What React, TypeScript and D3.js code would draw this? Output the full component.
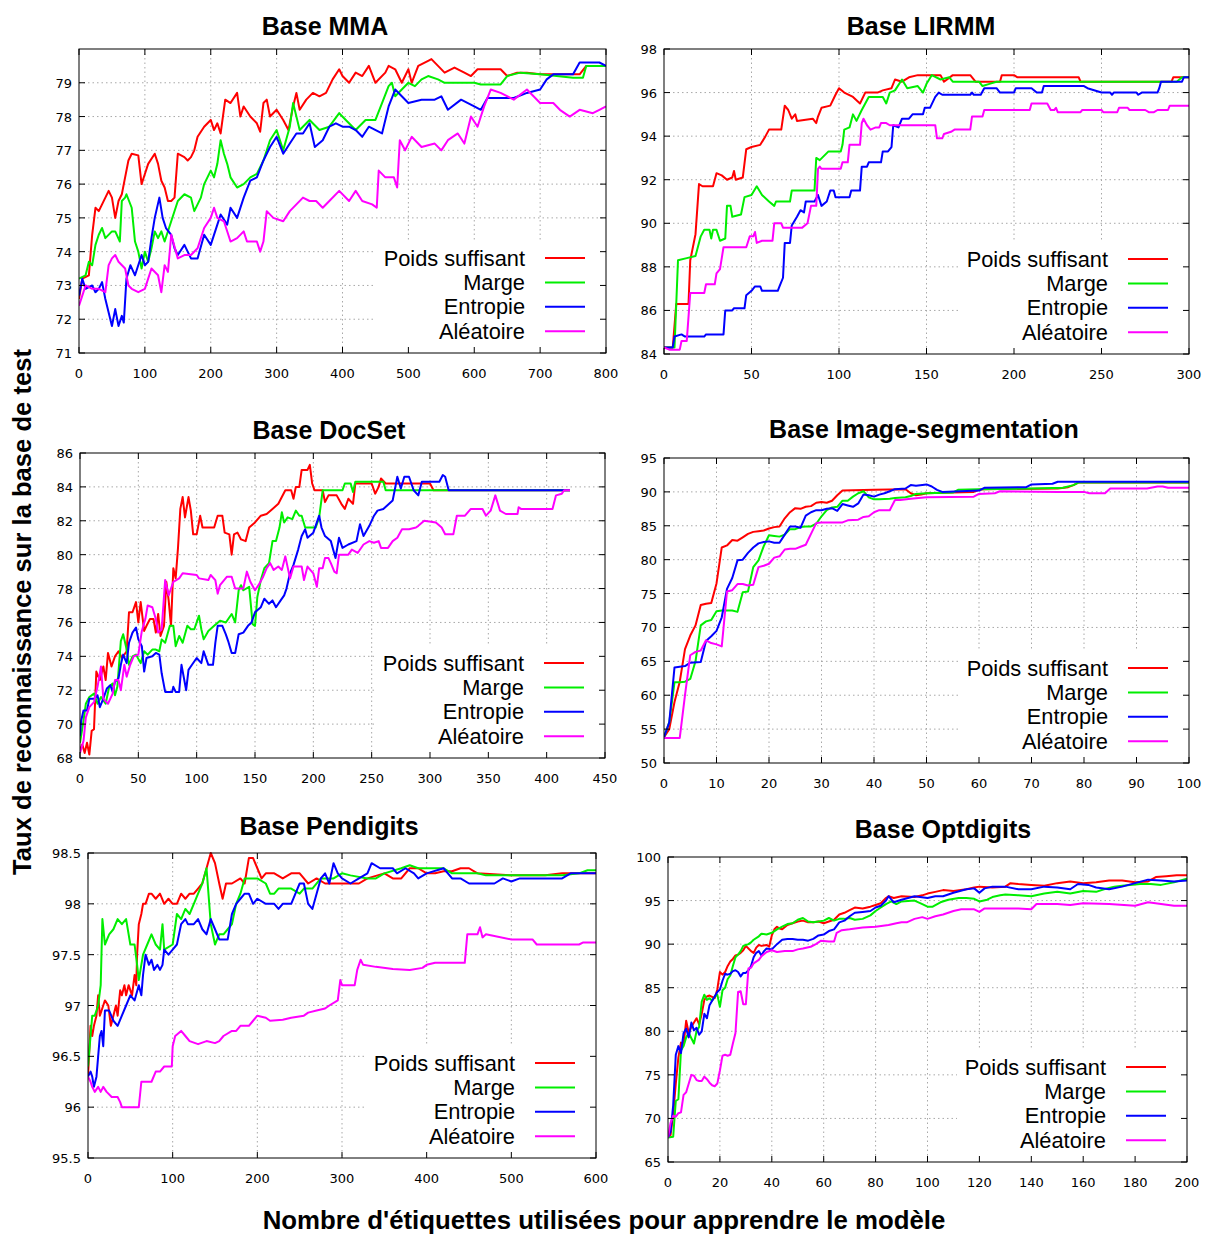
import React from 'react';
import * as d3 from 'd3';

type P = [number, number][];

const seriesNames = ['Poids suffisant', 'Marge', 'Entropie', 'Aléatoire'];
const seriesColors = ['#ff0000', '#00ee00', '#0000ff', '#ff00ff'];

// ---------- Base MMA ----------
const mmaPoids: P = [[0,72.6],[5,73.2],[15,73.3],[20,74.5],[25,75.3],[30,75.2],[35,75.4],[40,75.6],[45,75.8],[50,75.6],[55,75.0],[60,75.5],[65,75.7],[70,76.2],[75,76.7],[80,76.9],[90,76.85],[95,76.0],[100,76.3],[105,76.6],[115,76.9],[120,76.6],[125,76.1],[130,75.9],[135,75.5],[140,75.5],[145,75.6],[150,76.9],[160,76.8],[165,76.7],[170,76.8],[175,77.0],[180,77.4],[190,77.7],[200,77.9],[205,77.6],[210,77.8],[215,77.5],[222,78.5],[230,78.4],[240,78.7],[245,78.0],[250,78.3],[260,78.0],[270,77.8],[275,77.55],[280,78.4],[285,78.5],[290,78.0],[300,78.2],[310,77.9],[318,77.6],[325,78.3],[330,78.7],[335,78.2],[345,78.5],[355,78.7],[365,78.6],[375,78.7],[385,79.1],[395,79.4],[400,79.2],[410,79.0],[420,79.3],[430,79.2],[440,79.5],[450,79.0],[465,79.3],[470,79.5],[480,79.4],[490,79.0],[500,79.4],[505,79.0],[515,79.5],[530,79.65],[535,79.7],[545,79.5],[555,79.3],[570,79.45],[585,79.3],[595,79.2],[605,79.4],[640,79.4],[650,79.2],[665,79.3],[680,79.3],[700,79.25],[760,79.25],[770,79.5],[800,79.5]];
const mmaMarge: P = [[0,73.2],[10,73.3],[15,73.7],[20,73.6],[25,74.2],[30,74.5],[35,74.7],[40,74.4],[50,74.6],[55,74.6],[62,74.3],[65,75.5],[70,75.6],[72,75.7],[80,75.3],[85,74.3],[90,74.0],[95,73.5],[100,74.0],[105,73.7],[110,74.1],[115,74.6],[120,74.4],[125,74.6],[130,74.3],[140,74.9],[150,75.5],[160,75.7],[170,75.6],[175,75.2],[185,75.6],[190,76.0],[200,76.4],[205,76.2],[210,76.6],[215,77.3],[220,76.9],[225,76.6],[230,76.2],[240,75.9],[250,76.0],[260,76.2],[270,76.3],[280,76.7],[290,77.3],[300,77.6],[310,77.0],[320,77.7],[325,78.4],[335,77.6],[350,77.9],[365,77.6],[380,77.7],[395,78.1],[405,77.9],[420,77.6],[435,77.9],[450,77.9],[460,78.4],[470,78.9],[475,79.0],[480,78.6],[490,78.8],[500,79.0],[510,78.9],[520,79.1],[530,79.2],[545,79.1],[555,79.0],[600,79.0],[610,78.95],[640,78.95],[650,79.2],[670,79.3],[700,79.25],[750,79.15],[765,79.15],[770,79.5],[800,79.5]];
const mmaEntropie: P = [[0,72.7],[5,73.2],[10,72.9],[20,73.0],[25,72.8],[30,72.9],[35,73.1],[40,72.6],[45,72.2],[50,71.8],[55,72.3],[60,71.8],[65,72.1],[68,71.9],[72,73.2],[78,73.6],[85,73.3],[95,73.9],[100,73.6],[105,73.7],[110,74.4],[115,75.0],[122,75.6],[127,75.0],[132,74.7],[140,74.5],[145,74.1],[150,73.9],[160,74.2],[170,73.8],[180,73.8],[190,74.5],[200,74.2],[210,74.8],[215,75.1],[225,74.8],[230,75.3],[240,75.0],[250,75.6],[260,76.1],[270,76.2],[280,76.7],[290,77.1],[300,77.4],[310,76.9],[320,77.2],[330,77.5],[340,77.5],[350,77.8],[358,77.1],[370,77.3],[380,77.7],[390,77.8],[400,77.7],[410,77.7],[420,77.6],[430,77.4],[440,77.7],[460,77.5],[470,78.3],[480,78.8],[490,78.6],[500,78.4],[520,78.5],[540,78.5],[550,78.6],[560,78.2],[580,78.5],[600,78.3],[610,78.2],[620,78.55],[660,78.55],[680,78.7],[700,78.8],[710,79.1],[720,79.25],[750,79.25],[760,79.6],[790,79.6],[800,79.5]];
const mmaAleatoire: P = [[0,72.4],[5,72.7],[10,73.0],[20,72.9],[30,72.9],[40,72.8],[45,73.6],[50,73.8],[55,73.9],[60,73.7],[70,73.5],[75,73.0],[80,72.9],[90,72.8],[100,72.9],[110,73.5],[120,73.3],[125,72.8],[130,73.6],[135,73.4],[140,74.5],[150,73.8],[160,73.9],[170,73.9],[180,74.1],[190,74.7],[200,75.0],[205,75.3],[210,75.0],[220,74.9],[230,74.3],[240,74.4],[250,74.6],[255,74.3],[270,74.3],[275,74.0],[280,74.3],[285,75.2],[295,75.0],[310,74.9],[320,75.2],[330,75.4],[340,75.6],[350,75.5],[360,75.5],[370,75.3],[380,75.5],[395,75.8],[410,75.5],[420,75.8],[430,75.5],[445,75.4],[452,75.3],[455,76.4],[465,76.2],[478,76.2],[483,75.9],[487,77.3],[495,77.0],[505,77.4],[520,77.1],[540,77.2],[550,77.0],[560,77.3],[575,77.5],[585,77.2],[595,78.0],[605,77.7],[615,78.3],[625,78.8],[640,78.7],[660,78.5],[680,78.8],[690,78.6],[700,78.4],[720,78.4],[730,78.2],[745,78.0],[760,78.2],[780,78.1],[790,78.2],[800,78.3]];

// ---------- Base LIRMM ----------
const lirmmPoids: P = [[0,84.3],[5,84.3],[7,86.3],[14,86.3],[15,88.3],[18,89.5],[20,91.8],[22,91.7],[28,91.7],[30,92.3],[33,92.2],[36,92.0],[39,92.1],[40,92.4],[41,92.0],[45,92.1],[47,93.4],[50,93.5],[55,93.6],[58,94.0],[60,94.3],[67,94.3],[69,95.4],[71,95.2],[73,94.8],[75,95.0],[76,94.7],[85,94.8],[87,94.6],[88,94.9],[90,95.3],[95,95.4],[98,95.9],[100,96.2],[103,96.0],[108,95.8],[112,95.5],[115,96.0],[122,96.0],[125,96.1],[130,96.2],[132,96.6],[136,96.5],[140,96.7],[145,96.8],[158,96.8],[160,96.5],[165,96.8],[175,96.8],[178,96.5],[192,96.5],[193,96.8],[200,96.8],[202,96.7],[237,96.7],[238,96.5],[290,96.5],[291,96.7],[300,96.7]];
const lirmmMarge: P = [[0,84.3],[6,84.3],[8,88.3],[13,88.4],[18,88.5],[21,89.4],[23,89.7],[26,89.7],[27,89.3],[28,89.7],[30,89.7],[32,89.2],[35,89.3],[36,90.8],[38,90.8],[39,90.3],[44,90.4],[46,91.2],[50,91.3],[53,91.7],[56,91.3],[60,91.0],[63,90.8],[64,91.0],[72,91.0],[73,91.5],[86,91.5],[87,93.0],[89,92.9],[94,93.3],[101,93.3],[102,93.6],[103,94.3],[106,94.4],[108,95.0],[110,94.7],[113,95.2],[117,95.8],[125,95.8],[127,95.5],[129,96.0],[132,96.1],[136,96.6],[139,96.2],[145,96.3],[148,96.0],[150,96.4],[153,96.8],[158,96.6],[163,96.7],[165,96.5],[180,96.5],[182,96.3],[186,96.4],[190,96.5],[293,96.5],[296,96.7],[300,96.7]];
const lirmmEntropie: P = [[0,84.3],[5,84.3],[6,84.8],[10,84.9],[12,84.8],[23,84.8],[24,84.9],[34,84.9],[35,86.0],[39,86.0],[40,86.1],[46,86.1],[47,86.7],[50,86.9],[52,87.1],[55,87.1],[56,86.9],[65,86.9],[66,87.1],[68,87.5],[69,89.1],[72,89.1],[73,89.9],[76,90.3],[78,90.6],[80,90.5],[81,91.0],[86,91.0],[88,91.3],[90,90.8],[93,91.0],[95,91.5],[97,91.5],[98,91.2],[106,91.2],[107,91.5],[112,91.5],[113,92.6],[116,92.6],[117,92.8],[124,92.8],[125,93.3],[128,93.3],[130,93.5],[131,94.5],[134,94.4],[136,94.8],[140,94.8],[142,95.0],[148,95.0],[149,95.3],[152,95.3],[155,95.8],[157,96.0],[159,95.9],[175,95.9],[176,96.0],[177,95.9],[181,95.9],[183,96.2],[190,96.2],[192,96.0],[200,96.0],[201,96.2],[210,96.2],[213,96.0],[216,96.0],[217,96.3],[240,96.3],[242,96.2],[250,96.0],[255,96.0],[256,95.9],[257,96.0],[270,96.0],[271,95.9],[273,96.0],[282,96.0],[283,96.2],[284,96.5],[296,96.5],[297,96.7],[300,96.7]];
const lirmmAleatoire: P = [[0,84.3],[3,84.2],[9,84.2],[10,84.6],[13,84.6],[15,86.8],[23,86.8],[24,87.2],[29,87.2],[30,87.7],[32,87.9],[34,88.9],[47,88.9],[49,89.4],[51,89.4],[52,89.6],[53,89.1],[56,89.2],[62,89.2],[63,90.0],[67,90.0],[68,89.8],[79,89.8],[82,90.0],[84,90.8],[87,90.8],[88,92.5],[89,92.6],[90,92.5],[101,92.5],[102,92.8],[105,92.8],[106,93.6],[112,93.6],[113,94.6],[114,94.8],[116,94.5],[118,94.3],[121,94.4],[123,94.4],[124,94.6],[127,94.6],[129,94.5],[155,94.5],[156,93.9],[159,93.9],[160,94.1],[164,94.2],[166,94.3],[175,94.3],[176,94.9],[182,94.9],[183,95.2],[209,95.2],[210,95.5],[219,95.5],[221,95.2],[223,95.2],[224,95.3],[225,95.1],[238,95.1],[239,95.2],[250,95.2],[251,95.1],[259,95.1],[260,95.3],[265,95.3],[266,95.2],[275,95.2],[277,95.1],[280,95.1],[282,95.2],[288,95.2],[289,95.4],[300,95.4]];

// ---------- Base DocSet ----------
const docPoids: P = [[0,68.5],[2,68.8],[4,68.3],[6,68.9],[8,68.2],[10,69.6],[12,69.7],[14,73.1],[17,72.6],[20,73.4],[22,72.6],[24,74.2],[27,73.4],[30,74.0],[33,74.3],[36,73.9],[40,74.3],[42,76.6],[45,76.6],[48,77.2],[50,76.0],[52,77.2],[55,75.5],[57,75.8],[60,76.2],[63,76.2],[65,75.4],[67,76.5],[69,75.2],[72,75.8],[74,78.4],[76,77.3],[78,75.8],[80,79.2],[82,78.6],[84,80.4],[86,82.7],[88,83.4],[90,82.2],[93,83.4],[95,82.6],[97,81.2],[100,81.2],[103,82.3],[105,81.6],[115,81.6],[118,82.3],[122,82.3],[124,81.3],[128,81.2],[130,80.0],[132,81.2],[135,81.3],[138,80.9],[142,80.8],[145,81.6],[150,81.9],[155,82.3],[160,82.4],[165,82.7],[170,83.0],[173,83.4],[176,83.8],[181,83.8],[183,83.3],[185,84.0],[188,84.0],[190,85.0],[195,85.0],[197,85.3],[199,84.2],[201,83.8],[208,83.8],[210,83.1],[213,83.5],[220,83.5],[224,83.0],[227,82.7],[230,83.3],[234,83.0],[236,84.2],[250,84.2],[253,83.6],[256,84.0],[258,84.5],[262,84.2],[300,84.2],[303,83.8],[420,83.8]];
const docMarge: P = [[0,68.9],[3,70.2],[5,71.2],[8,71.6],[12,71.8],[15,71.2],[18,71.6],[22,71.2],[25,72.2],[28,72.4],[30,71.7],[32,72.2],[35,74.9],[37,75.3],[40,74.4],[42,73.5],[45,74.0],[48,74.1],[52,73.6],[55,74.3],[58,74.1],[62,74.4],[65,74.4],[68,74.3],[70,75.0],[73,74.8],[77,75.8],[80,75.8],[82,74.6],[85,75.2],[88,74.8],[92,75.8],[95,75.6],[98,75.6],[100,76.0],[102,76.4],[104,75.6],[106,75.0],[110,75.5],[115,75.8],[120,76.1],[125,76.0],[130,76.5],[133,76.0],[136,77.9],[138,78.2],[140,77.9],[145,78.1],[148,75.9],[150,75.8],[152,77.5],[155,78.5],[158,79.2],[162,79.5],[165,80.8],[168,80.8],[171,81.6],[173,82.5],[175,81.9],[178,82.2],[182,82.1],[185,82.6],[188,82.3],[190,82.3],[193,81.6],[202,81.6],[205,82.2],[208,83.8],[225,83.8],[227,84.2],[232,84.2],[234,83.7],[236,84.3],[260,84.3],[262,83.8],[420,83.8]];
const docEntropie: P = [[0,69.3],[1,70.2],[3,70.8],[6,70.8],[8,71.5],[12,71.5],[15,71.7],[17,71.0],[20,71.5],[23,72.1],[26,72.3],[28,71.9],[30,72.5],[33,72.7],[35,73.5],[37,74.1],[40,73.6],[42,74.8],[45,75.4],[48,75.7],[50,75.0],[53,74.6],[55,73.1],[57,73.9],[62,74.0],[65,74.2],[68,74.1],[70,73.0],[73,71.9],[79,71.9],[80,72.2],[82,71.9],[85,71.9],[87,73.5],[91,72.0],[93,73.2],[96,73.5],[100,73.9],[104,73.6],[106,74.3],[110,73.5],[114,73.5],[116,74.8],[118,75.8],[122,75.8],[125,75.3],[127,74.9],[130,74.2],[133,74.2],[136,75.3],[140,75.4],[144,75.8],[147,76.0],[150,76.6],[155,76.9],[158,77.4],[162,77.1],[165,77.3],[168,76.9],[172,77.3],[175,77.6],[177,78.0],[180,78.9],[183,79.4],[187,80.3],[190,81.1],[193,81.5],[195,81.0],[200,81.3],[205,82.3],[207,81.6],[210,81.1],[215,80.8],[219,79.8],[222,81.0],[225,80.4],[230,80.6],[237,80.8],[240,81.8],[243,81.1],[248,81.7],[252,82.3],[255,82.6],[260,82.7],[268,83.2],[272,84.6],[275,83.9],[278,84.6],[282,84.6],[286,83.8],[290,83.5],[293,84.3],[300,84.3],[308,84.3],[311,84.7],[313,84.6],[316,83.8],[420,83.8]];
const docAleatoire: P = [[0,68.3],[3,69.0],[5,70.4],[8,71.0],[12,71.3],[15,72.2],[18,73.4],[20,71.5],[24,71.2],[28,71.8],[30,72.6],[33,72.6],[35,72.0],[38,73.5],[40,72.8],[43,73.5],[46,74.0],[50,74.1],[53,75.5],[56,76.2],[58,77.0],[62,76.9],[65,76.2],[67,75.4],[70,75.6],[73,78.5],[76,77.6],[80,78.4],[85,78.6],[88,78.9],[100,78.8],[102,78.6],[110,78.5],[112,78.8],[116,78.5],[118,77.7],[120,78.2],[126,78.7],[130,78.7],[133,78.0],[140,78.0],[143,79.0],[146,78.4],[150,77.9],[153,78.2],[157,78.7],[160,79.2],[163,79.5],[166,79.1],[170,79.3],[173,79.1],[176,79.9],[180,78.6],[183,79.3],[190,79.3],[192,78.5],[195,79.3],[200,78.9],[203,78.1],[205,79.2],[208,79.2],[210,79.8],[213,79.8],[215,79.5],[218,79.0],[220,78.9],[222,80.0],[230,80.0],[233,80.3],[238,80.1],[243,80.6],[248,80.8],[252,80.7],[256,80.8],[258,80.4],[264,80.4],[268,80.8],[272,81.0],[276,81.5],[282,81.5],[288,81.6],[290,81.7],[295,82.0],[305,81.9],[310,81.6],[313,81.2],[320,81.2],[323,82.3],[330,82.3],[335,82.7],[345,82.7],[348,82.3],[352,82.6],[356,83.5],[360,82.6],[365,82.4],[375,82.4],[376,82.8],[378,82.7],[405,82.7],[408,83.5],[413,83.6],[415,83.8],[420,83.8]];

// ---------- Base Image-segmentation ----------
const segPoids: P = [[0,53.8],[1,55],[2,59],[3,62],[4,66.8],[5,68.8],[6,70.3],[7,73.3],[8,73.5],[9,73.6],[10,76.5],[11,81.8],[12,82.1],[13,82.9],[14,82.8],[15,83.3],[16,83.8],[17,84.1],[18,84.2],[19,84.3],[20,84.6],[21,84.8],[22,84.9],[23,86.1],[24,87.0],[25,87.6],[26,87.5],[27,87.8],[28,87.9],[29,88.4],[30,88.5],[31,88.4],[32,88.7],[33,89.5],[34,90.2],[40,90.3],[46,90.4],[47,89.8],[48,89.5],[49,89.6],[50,89.8],[55,89.9],[59,90.0],[60,90.3],[61,90.4],[75,90.5],[77,90.7],[78,91.0],[79,91.4],[100,91.4]];
const segMarge: P = [[0,53.8],[1,56],[2,61.9],[3,61.9],[4,62],[5,62.4],[6,65],[7,70.3],[8,70.9],[9,71.1],[10,72.4],[11,72.5],[13,72.5],[14,72.3],[15,75.2],[16,75.3],[17,78.9],[18,79.9],[19,82],[20,83.6],[21,83.5],[22,83.4],[23,83.7],[24,84.5],[25,84.5],[26,84.8],[27,84.9],[28,84.9],[29,85.3],[30,86.4],[31,87.3],[32,87.7],[33,87.8],[34,88.7],[35,88.7],[36,89.3],[37,89.8],[38,90.1],[39,89.2],[40,88.9],[41,88.9],[43,89.0],[44,89.1],[46,89.2],[47,89.4],[48,89.7],[50,89.8],[55,89.9],[56,90.3],[60,90.4],[70,90.5],[76,90.6],[78,91.0],[79,91.4],[100,91.4]];
const segEntropie: P = [[0,53.8],[1,56],[2,64.1],[3,64.2],[4,64.3],[5,64.8],[7,64.9],[8,68],[9,68.7],[10,69.5],[11,71.5],[12,75.7],[13,77.3],[14,79.9],[15,80.0],[16,81.0],[17,81.8],[18,82.4],[19,82.6],[20,82.7],[21,82.5],[22,82.5],[23,83.7],[24,84.9],[25,84.9],[26,84.7],[27,86.5],[28,87.0],[29,87.3],[30,87.3],[31,87.5],[32,87.6],[33,87.2],[34,88.2],[35,88.0],[36,87.8],[37,88.3],[38,89.6],[39,89.5],[40,89.3],[41,89.6],[42,89.8],[43,90.1],[44,90.4],[46,90.5],[47,91.0],[48,90.9],[50,91.1],[51,90.8],[52,90.3],[53,90.0],[60,90.2],[61,90.6],[69,90.7],[70,91.1],[74,91.2],[75,91.5],[100,91.5]];
const segAleatoire: P = [[0,53.7],[3,53.7],[4,60],[5,65.9],[6,66.4],[7,66.6],[8,68.1],[9,67.7],[10,67.5],[11,67.2],[12,75.3],[13,75.5],[14,76.4],[15,76.4],[16,76.2],[17,76.3],[18,78.9],[19,79.1],[20,79.4],[21,80.3],[22,80.5],[23,81.5],[24,81.6],[25,81.6],[26,81.9],[27,82.2],[28,83.8],[29,85.4],[30,85.5],[34,85.5],[35,85.8],[37,85.9],[38,86.3],[39,86.4],[40,87.0],[41,87.3],[43,87.3],[44,88.8],[45,88.8],[47,89.0],[50,89.2],[59,89.3],[60,89.7],[63,89.8],[64,90.1],[75,90.0],[80,90.0],[81,89.8],[84,89.8],[85,90.5],[92,90.5],[94,90.8],[95,90.8],[96,90.6],[100,90.6]];

// ---------- Base Pendigits ----------
const penPoids: P = [[0,96.3],[3,96.8],[5,96.7],[7,96.8],[10,96.9],[12,97.1],[14,96.9],[18,97.0],[20,97.05],[24,97.0],[27,96.8],[30,96.9],[33,97.0],[35,96.9],[38,97.15],[40,97.1],[43,97.2],[45,97.1],[48,97.2],[52,97.1],[55,97.3],[57,97.2],[58,97.5],[60,97.8],[63,97.9],[65,98.0],[68,98.0],[72,98.1],[75,98.1],[80,98.05],[85,98.1],[90,98.0],[95,98.05],[100,98.0],[105,98.0],[110,98.1],[115,98.05],[120,98.1],[125,98.1],[130,98.15],[135,98.2],[140,98.35],[145,98.5],[150,98.4],[155,98.2],[159,98.05],[163,98.2],[170,98.2],[180,98.25],[185,98.2],[190,98.45],[195,98.45],[200,98.35],[205,98.25],[210,98.3],[220,98.3],[230,98.25],[240,98.3],[250,98.3],[255,98.25],[260,98.2],[270,98.25],[280,98.2],[290,98.2],[320,98.2],[330,98.25],[350,98.3],[360,98.25],[370,98.25],[380,98.35],[390,98.35],[400,98.3],[410,98.3],[420,98.32],[430,98.32],[440,98.35],[450,98.35],[460,98.3],[500,98.28],[540,98.28],[560,98.3],[600,98.3]];
const penMarge: P = [[0,96.4],[5,96.9],[8,96.9],[12,97.0],[15,97.2],[17,97.85],[20,97.6],[25,97.7],[30,97.75],[35,97.85],[40,97.8],[45,97.85],[50,97.6],[55,97.6],[58,97.4],[60,97.25],[65,97.5],[70,97.6],[75,97.7],[80,97.6],[85,97.55],[88,97.8],[90,97.55],[100,97.6],[105,97.9],[110,97.85],[115,97.95],[120,97.9],[125,98.0],[130,98.1],[135,98.2],[140,98.35],[145,97.8],[150,97.6],[155,97.7],[160,97.7],[165,97.75],[170,97.8],[175,98.0],[180,98.1],[185,98.25],[200,98.25],[210,98.2],[215,98.1],[220,98.1],[225,98.15],[240,98.15],[250,98.1],[255,98.15],[265,98.15],[275,98.25],[290,98.25],[300,98.3],[310,98.28],[330,98.25],[340,98.25],[350,98.3],[370,98.35],[380,98.38],[390,98.35],[420,98.35],[430,98.3],[460,98.3],[470,98.28],[560,98.28],[580,98.3],[590,98.33],[600,98.33]];
const penEntropie: P = [[0,96.3],[3,96.35],[5,96.3],[7,96.2],[10,96.3],[12,96.5],[14,96.7],[16,96.75],[18,96.6],[20,96.95],[25,96.95],[30,96.85],[35,96.8],[40,96.9],[45,97.0],[50,97.1],[55,97.05],[60,97.2],[63,97.1],[65,97.3],[68,97.5],[72,97.4],[75,97.45],[78,97.35],[82,97.4],[85,97.35],[88,97.4],[90,97.55],[95,97.5],[100,97.55],[105,97.6],[110,97.8],[115,97.85],[118,97.8],[125,97.8],[130,97.85],[135,97.75],[140,97.7],[145,97.85],[150,97.75],[155,97.65],[165,97.65],[170,97.9],[175,98.0],[180,98.05],[185,98.1],[190,98.1],[195,98.0],[200,98.05],[210,98.0],[220,98.0],[225,97.95],[230,98.0],[240,98.0],[245,98.1],[250,98.2],[255,98.2],[260,98.0],[265,97.95],[270,98.1],[275,98.25],[280,98.3],[285,98.2],[290,98.4],[295,98.3],[300,98.25],[310,98.2],[320,98.25],[330,98.3],[335,98.4],[345,98.35],[360,98.35],[365,98.3],[375,98.35],[385,98.3],[390,98.25],[400,98.3],[420,98.35],[430,98.25],[440,98.25],[450,98.2],[480,98.2],[490,98.25],[500,98.22],[510,98.25],[560,98.25],[570,98.3],[600,98.3]];
const penAleatoire: P = [[0,96.3],[3,96.25],[5,96.2],[8,96.15],[12,96.2],[15,96.15],[18,96.2],[22,96.15],[28,96.1],[35,96.1],[38,96.05],[40,96.0],[60,96.0],[63,96.25],[75,96.25],[80,96.35],[85,96.35],[90,96.4],[99,96.4],[100,96.6],[103,96.7],[110,96.75],[115,96.7],[120,96.65],[130,96.62],[140,96.65],[150,96.63],[155,96.65],[160,96.7],[170,96.75],[175,96.75],[180,96.8],[190,96.8],[195,96.85],[200,96.9],[210,96.88],[215,96.85],[230,96.86],[240,96.88],[255,96.9],[260,96.93],[270,96.95],[280,96.97],[285,97.0],[295,97.05],[298,97.25],[300,97.2],[315,97.2],[318,97.35],[322,97.45],[325,97.4],[340,97.38],[360,97.36],[380,97.35],[395,97.37],[400,97.4],[410,97.42],[445,97.42],[448,97.7],[460,97.7],[463,97.77],[466,97.67],[470,97.7],[500,97.65],[525,97.65],[530,97.6],[580,97.6],[585,97.62],[600,97.62]];

// ---------- Base Optdigits ----------
const optPoids: P = [[0,67.8],[1,68.1],[2,70.5],[3,74],[4,77],[5,78.7],[6,78.5],[7,81.2],[8,79.8],[9,80.5],[10,81.0],[11,81.5],[12,80.8],[13,82],[14,83.6],[15,84.0],[16,84.1],[18,83.8],[19,84.8],[20,86.8],[21,86.5],[22,86.8],[23,87.5],[24,88.0],[25,88.3],[26,88.7],[27,88.8],[28,89.0],[29,89.3],[30,89.8],[31,89.5],[32,89.2],[33,89.0],[34,89.6],[35,89.9],[36,89.8],[38,89.9],[39,89.7],[40,91.0],[41,91.7],[42,92.0],[43,91.8],[44,91.7],[46,92.2],[48,92.4],[50,92.6],[52,92.7],[54,92.5],[56,92.5],[58,92.6],[60,92.4],[62,92.6],[64,92.8],[66,93.4],[68,93.6],[70,93.9],[72,94.2],[75,94.1],[78,94.3],[80,94.5],[82,94.7],[84,95.3],[85,95.5],[87,95.3],[90,95.5],[95,95.4],[98,95.6],[100,95.8],[103,96.0],[106,96.2],[110,96.1],[115,96.3],[118,96.5],[120,96.6],[125,96.5],[130,96.6],[132,97.0],[135,96.9],[140,96.8],[145,96.7],[150,97.0],[155,97.2],[160,97.0],[165,97.1],[170,97.3],[175,97.3],[180,97.1],[185,97.2],[188,97.7],[192,97.8],[196,97.9],[200,97.9]];
const optMarge: P = [[0,67.8],[2,67.9],[3,72.0],[4,72.2],[5,77.8],[6,78.3],[7,79.3],[8,79.8],[9,79.2],[10,78.6],[11,80.0],[12,80.5],[13,83.4],[14,84.2],[15,83.6],[16,83.8],[17,83.5],[18,84.0],[19,84.2],[20,82.8],[21,84.7],[22,85.0],[23,86.0],[24,86.4],[25,87.5],[26,88.5],[27,88.8],[28,89.2],[29,89.8],[30,89.9],[31,90.0],[32,90.2],[33,90.5],[35,90.9],[36,91.2],[38,91.1],[40,91.3],[42,91.7],[44,92.0],[46,92.3],[48,92.4],[50,92.8],[52,93.0],[54,92.6],[56,92.5],[58,92.6],[60,92.7],[62,93.0],[64,92.7],[66,92.9],[68,92.9],[70,93.0],[72,92.8],[75,92.9],[78,93.3],[80,93.8],[82,94.2],[84,94.6],[86,94.9],[88,94.6],[90,94.9],[95,95.0],[98,94.6],[100,94.3],[102,94.3],[105,94.8],[108,95.1],[112,95.3],[115,95.3],[118,95.2],[120,94.9],[123,95.1],[125,95.4],[128,95.6],[130,95.7],[135,95.6],[140,95.5],[145,95.8],[150,96.0],[155,95.8],[160,96.1],[165,96.0],[168,96.3],[172,96.6],[175,96.7],[178,96.8],[182,96.9],[186,96.9],[190,96.8],[195,97.1],[200,97.5]];
const optEntropie: P = [[0,67.8],[1,68.5],[2,71.5],[3,77.3],[4,78.3],[5,77.5],[6,79.8],[7,80.3],[8,79.3],[9,81.0],[10,80.1],[11,80.4],[12,79.6],[13,80.0],[14,82.0],[15,81.5],[16,83.0],[17,83.5],[18,84.0],[19,84.5],[20,84.8],[21,85.8],[22,86.6],[23,86.5],[24,86.6],[25,86.9],[26,87.0],[27,86.8],[28,86.3],[29,86.7],[30,86.7],[31,87.0],[32,87.5],[33,88.5],[34,89.0],[35,89.2],[36,88.7],[37,89.2],[38,89.5],[40,89.4],[42,90.0],[44,90.5],[46,90.6],[48,90.6],[50,90.5],[52,90.5],[54,90.4],[56,90.6],[58,91.0],[60,91.1],[62,91.5],[64,91.7],[66,92.5],[68,92.7],[70,93.2],[72,93.6],[75,93.7],[78,93.8],[80,94.2],[82,94.4],[84,95.0],[85,95.5],[87,94.8],[90,95.1],[95,95.5],[100,95.3],[103,95.5],[106,95.5],[110,95.9],[115,96.3],[118,96.4],[120,95.9],[122,96.4],[125,96.6],[130,96.6],[135,96.3],[140,96.3],[145,96.6],[150,96.5],[155,96.3],[158,96.9],[162,96.8],[165,96.5],[170,96.3],[175,96.6],[180,97.0],[185,97.4],[190,97.3],[195,97.2],[200,97.3]];
const optAleatoire: P = [[0,67.8],[1,69.5],[2,70.3],[3,70.2],[4,70.6],[5,70.7],[6,72.7],[7,73.0],[8,74.0],[9,75.0],[10,74.9],[11,74.4],[12,74.3],[13,74.3],[14,74.8],[15,74.5],[16,74.1],[17,73.8],[18,73.7],[19,74.0],[20,75.5],[21,77.2],[22,77.3],[23,77.2],[24,77.3],[25,78.6],[26,79.8],[27,84.5],[28,84.6],[29,83.1],[30,83.1],[31,87.2],[32,87.3],[33,87.8],[35,88.2],[36,88.6],[38,89.1],[40,89.3],[42,89.1],[45,89.2],[48,89.2],[50,89.4],[52,89.5],[55,89.7],[57,90.0],[59,90.4],[62,90.3],[64,90.3],[65,91.3],[67,91.6],[70,91.7],[75,91.9],[80,92.0],[85,92.2],[88,92.4],[90,92.5],[92,92.5],[95,92.9],[98,93.1],[100,92.9],[103,93.2],[106,93.4],[110,93.8],[113,94.0],[118,94.0],[120,93.7],[122,94.1],[130,94.1],[135,94.1],[140,94.0],[142,94.6],[150,94.6],[155,94.5],[160,94.7],[170,94.6],[180,94.4],[185,94.8],[190,94.6],[195,94.4],[200,94.4]];

// ---------- tick values ----------
const mmaXTicks = [0, 100, 200, 300, 400, 500, 600, 700, 800];
const mmaYTicks = [71, 72, 73, 74, 75, 76, 77, 78, 79];
const lirmmXTicks = [0, 50, 100, 150, 200, 250, 300];
const lirmmYTicks = [84, 86, 88, 90, 92, 94, 96, 98];
const docXTicks = [0, 50, 100, 150, 200, 250, 300, 350, 400, 450];
const docYTicks = [68, 70, 72, 74, 76, 78, 80, 82, 84, 86];
const segXTicks = [0, 10, 20, 30, 40, 50, 60, 70, 80, 90, 100];
const segYTicks = [50, 55, 60, 65, 70, 75, 80, 85, 90, 95];
const penXTicks = [0, 100, 200, 300, 400, 500, 600];
const penYTicks = [95.5, 96, 96.5, 97, 97.5, 98, 98.5];
const optXTicks = [0, 20, 40, 60, 80, 100, 120, 140, 160, 180, 200];
const optYTicks = [65, 70, 75, 80, 85, 90, 95, 100];

interface PanelCfg {
  id: string;
  title: string;
  tx: number;
  ty: number;
  box: [number, number, number, number];
  xDomain: [number, number];
  yDomain: [number, number];
  xTicks: number[];
  yTicks: number[];
  series: P[];
}

const panels: PanelCfg[] = [
  { id: 'mma', title: 'Base MMA', tx: 325, ty: 35, box: [79, 49, 606, 353], xDomain: [0, 800], yDomain: [71, 80], xTicks: mmaXTicks, yTicks: mmaYTicks, series: [mmaPoids, mmaMarge, mmaEntropie, mmaAleatoire] },
  { id: 'lirmm', title: 'Base LIRMM', tx: 921, ty: 35, box: [664, 49, 1189, 354], xDomain: [0, 300], yDomain: [84, 98], xTicks: lirmmXTicks, yTicks: lirmmYTicks, series: [lirmmPoids, lirmmMarge, lirmmEntropie, lirmmAleatoire] },
  { id: 'doc', title: 'Base DocSet', tx: 329, ty: 439, box: [80, 453, 605, 758], xDomain: [0, 450], yDomain: [68, 86], xTicks: docXTicks, yTicks: docYTicks, series: [docPoids, docMarge, docEntropie, docAleatoire] },
  { id: 'seg', title: 'Base Image-segmentation', tx: 924, ty: 438, box: [664, 458, 1189, 763], xDomain: [0, 100], yDomain: [50, 95], xTicks: segXTicks, yTicks: segYTicks, series: [segPoids, segMarge, segEntropie, segAleatoire] },
  { id: 'pen', title: 'Base Pendigits', tx: 329, ty: 835, box: [88, 853, 596, 1158], xDomain: [0, 600], yDomain: [95.5, 98.5], xTicks: penXTicks, yTicks: penYTicks, series: [penPoids, penMarge, penEntropie, penAleatoire] },
  { id: 'opt', title: 'Base Optdigits', tx: 943, ty: 838, box: [668, 857, 1187, 1162], xDomain: [0, 200], yDomain: [65, 100], xTicks: optXTicks, yTicks: optYTicks, series: [optPoids, optMarge, optEntropie, optAleatoire] },
];

const tickFont = '"DejaVu Sans", Verdana, sans-serif';
const textFont = '"Liberation Sans", Arial, sans-serif';

function Panel({ cfg }: { cfg: PanelCfg }) {
  const [l, t, r, b] = cfg.box;
  const x = d3.scaleLinear().domain(cfg.xDomain).range([l, r]);
  const y = d3.scaleLinear().domain(cfg.yDomain).range([b, t]);
  const line = d3.line<[number, number]>().x((d) => x(d[0])).y((d) => y(d[1]));
  const legTop = b - 95;
  const rowH = 24.4;
  const tickLen = 6;
  const gridStyle = { stroke: '#a8a8a8', strokeWidth: 1, strokeDasharray: '1.5,3' };
  return (
    <g>
      <text x={cfg.tx} y={cfg.ty} textAnchor="middle" fontFamily={textFont} fontWeight="bold" fontSize={25} fill="#000">
        {cfg.title}
      </text>
      {cfg.yTicks.filter((v) => y(v) > t + 1 && y(v) < b - 1).map((v) => (
        <line key={'gy' + v} x1={l} x2={r} y1={y(v)} y2={y(v)} {...gridStyle} />
      ))}
      {cfg.xTicks.filter((v) => x(v) > l + 1 && x(v) < r - 1).map((v) => (
        <line key={'gx' + v} x1={x(v)} x2={x(v)} y1={t} y2={b} {...gridStyle} />
      ))}
      <rect x={r - 230} y={legTop - 18} width={229} height={b - legTop + 17} fill="#fff" />
      <clipPath id={'clip-' + cfg.id}>
        <rect x={l} y={t - 2} width={r - l} height={b - t + 4} />
      </clipPath>
      <g clipPath={`url(#clip-${cfg.id})`}>
        {cfg.series.map((s, i) => (
          <path key={'s' + i} d={line(s) || ''} fill="none" stroke={seriesColors[i]} strokeWidth={2} strokeLinejoin="round" />
        ))}
      </g>
      {seriesNames.map((n, i) => (
        <g key={'lg' + i}>
          <text x={r - 81} y={legTop + i * rowH + 7.5} textAnchor="end" fontFamily={textFont} fontSize={21.8} fill="#000">
            {n}
          </text>
          <line x1={r - 61} x2={r - 21} y1={legTop + i * rowH} y2={legTop + i * rowH} stroke={seriesColors[i]} strokeWidth={2} />
        </g>
      ))}
      <rect x={l} y={t} width={r - l} height={b - t} fill="none" stroke="#000" strokeWidth={1} />
      {cfg.yTicks.map((v) => (
        <g key={'ty' + v}>
          <line x1={l} x2={l + tickLen} y1={y(v)} y2={y(v)} stroke="#000" />
          <line x1={r} x2={r - tickLen} y1={y(v)} y2={y(v)} stroke="#000" />
          <text x={l - 7} y={y(v) + 5} textAnchor="end" fontFamily={tickFont} fontSize={13} fill="#000">
            {String(v)}
          </text>
        </g>
      ))}
      {cfg.xTicks.map((v) => (
        <g key={'tx' + v}>
          <line x1={x(v)} x2={x(v)} y1={b} y2={b - tickLen} stroke="#000" />
          <line x1={x(v)} x2={x(v)} y1={t} y2={t + tickLen} stroke="#000" />
          <text x={x(v)} y={b + 25} textAnchor="middle" fontFamily={tickFont} fontSize={13} fill="#000">
            {String(v)}
          </text>
        </g>
      ))}
    </g>
  );
}

export default function App() {
  return (
    <svg width={1205} height={1234} style={{ position: 'absolute', left: 0, top: 0, background: '#fff' }}>
      <rect x={0} y={0} width={1205} height={1234} fill="#fff" />
      {panels.map((p) => (
        <Panel key={p.id} cfg={p} />
      ))}
      <text x={604} y={1229} textAnchor="middle" fontFamily={textFont} fontWeight="bold" fontSize={25.8} fill="#000">
        Nombre d'étiquettes utilisées pour apprendre le modèle
      </text>
      <text transform="translate(31,612) rotate(-90)" textAnchor="middle" fontFamily={textFont} fontWeight="bold" fontSize={25.6} fill="#000">
        Taux de reconnaissance sur la base de test
      </text>
    </svg>
  );
}
